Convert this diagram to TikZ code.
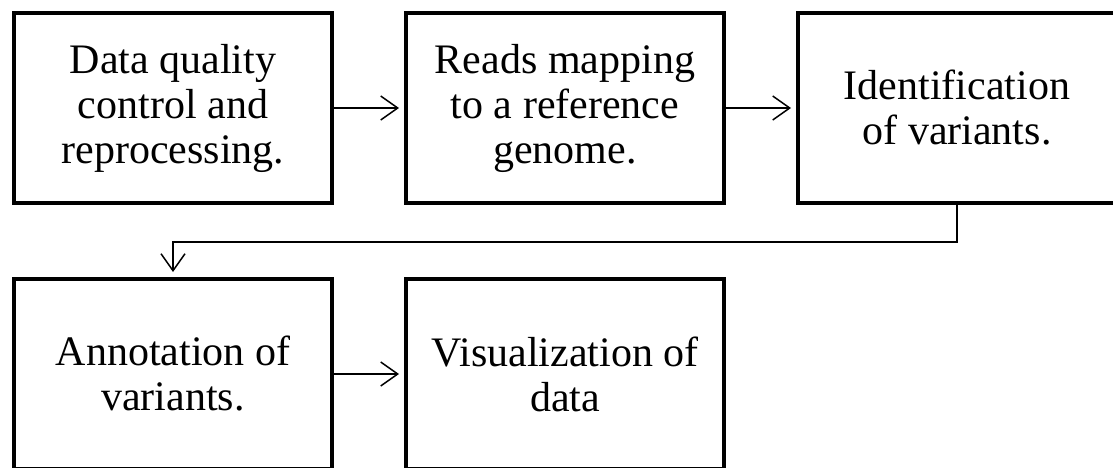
\documentclass[tikz,border=0pt]{standalone}
\usepackage{fontspec}
\setmainfont{Liberation Serif}
\usetikzlibrary{arrows.meta,positioning}
\tikzset{
	block/.style={
		rectangle,
		draw=black,
		line width=4pt,
		fill=white,
		minimum width=318pt,
		minimum height=190pt,
		inner sep=0pt,
		align=center,
		font=\fontsize{42}{45}\selectfont
	},
	arrow/.style={
		draw=black,
		line width=1.5pt,
		-{Straight Barb[length=17pt,width=24pt]},
		shorten >=5pt
	},
}
\begin{document}
\begin{tikzpicture}[node distance=72pt and 70pt]
\useasboundingbox (0,0) rectangle (1113pt,-468pt);
\node [block] (qc) at (173pt,-108pt) {Data quality\\control and\\reprocessing.};
\node [block] (map) [right=of qc] {Reads mapping\\to a reference\\genome.};
\node [block] (ident) [right=of map] {Identification\\of variants.};
\node [block] (annot) [below=of qc] {Annotation of\\variants.};
\node [block] (visu) [right=of annot] {Visualization of\\data};

\draw [arrow] (qc) -- (map);
\draw [arrow] (map) -- (ident);
\draw [arrow] (ident.south) -- ++(0,-37pt) -| (annot.north);
\draw [arrow] (annot) -- (visu);
\end{tikzpicture}
\end{document}
